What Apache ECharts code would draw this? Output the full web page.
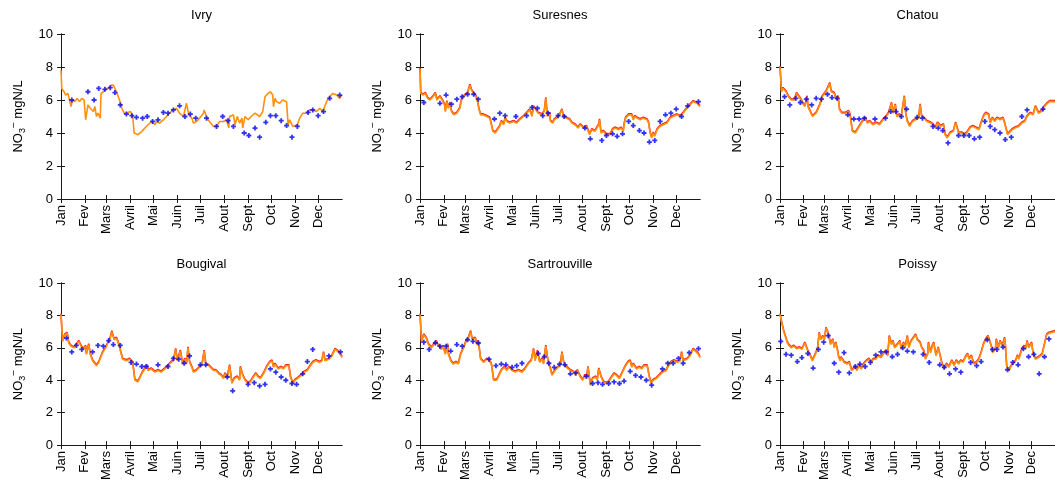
<!DOCTYPE html>
<html>
<head>
<meta charset="utf-8">
<script src="https://cdn.jsdelivr.net/npm/echarts@6/dist/echarts.min.js"></script>
<style>
  html, body { margin: 0; padding: 0; background: #fff; }
  #main { width: 1055px; height: 483px; }
</style>
</head>
<body>
<div id="main"></div>
<script>
var months = ['Jan', 'Fev', 'Mars', 'Avril', 'Mai', 'Juin', 'Juil', 'Aout', 'Sept', 'Oct', 'Nov', 'Dec'];
var monthStart = [0, 31, 59, 90, 120, 151, 181, 212, 243, 273, 304, 334];
var stations = ['Ivry', 'Suresnes', 'Chatou', 'Bougival', 'Sartrouville', 'Poissy'];

// modelled daily nitrate, [day, mgN/L]
var ivryModel = [[0,7.8],[1,6.7],[4,6.5],[6,6.3],[9,6.4],[13,5.6],[15,6.0],[18,5.9],[21,6.1],[24,5.9],[27,6.1],[30,6.0],[32,4.8],[35,5.7],[38,5.5],[42,5.3],[44,5.6],[46,5.0],[48,5.2],[51,4.9],[52,6.4],[55,6.5],[59,6.7],[62,6.7],[65,6.9],[68,6.9],[72,6.5],[76,6.0],[79,5.5],[82,5.2],[85,5.2],[90,5.3],[93,5.1],[95,4.0],[100,3.9],[105,4.1],[109,4.3],[113,4.5],[118,4.7],[120,4.8],[122,4.5],[124,4.7],[128,4.6],[133,4.8],[137,5.0],[141,5.2],[146,5.4],[150,5.5],[152,5.6],[154,5.2],[159,5.0],[163,5.8],[166,5.1],[170,4.9],[172,4.6],[176,4.7],[180,4.9],[185,5.2],[186,5.4],[189,5.0],[191,4.8],[193,4.7],[198,4.4],[202,4.4],[206,4.7],[211,4.7],[215,4.8],[218,4.3],[219,5.0],[224,5.1],[226,4.5],[229,5.0],[232,4.6],[235,4.9],[236,4.3],[239,5.0],[243,4.8],[247,5.0],[252,5.2],[258,5.0],[260,4.9],[262,5.3],[265,6.2],[269,6.4],[272,6.5],[275,6.3],[276,5.6],[278,6.1],[280,5.9],[284,5.8],[288,6.0],[293,5.9],[295,4.5],[297,4.8],[301,4.4],[307,4.5],[310,4.9],[314,5.2],[319,5.2],[323,5.4],[327,5.4],[332,5.3],[336,5.5],[340,5.3],[345,5.9],[349,6.2],[353,6.4],[358,6.3],[362,6.1],[365,6.3]];
var suresnesModel = [[0,7.9],[1,6.4],[4,6.3],[7,6.4],[10,6.1],[13,6.0],[17,6.2],[20,6.4],[22,6.0],[26,6.2],[30,5.9],[32,5.7],[33,5.3],[35,5.9],[37,5.5],[39,5.8],[41,5.3],[44,5.1],[48,5.2],[50,5.1],[52,5.5],[54,6.0],[59,6.3],[62,6.4],[65,6.9],[67,6.6],[70,6.4],[73,6.2],[75,5.9],[77,5.4],[79,5.1],[82,5.1],[87,5.0],[89,5.1],[91,4.9],[95,4.1],[98,4.0],[101,4.2],[104,4.4],[106,4.7],[109,4.5],[111,4.9],[113,4.7],[117,4.6],[122,4.7],[126,4.6],[130,4.8],[135,5.0],[139,5.2],[143,5.4],[146,5.0],[148,5.6],[150,5.7],[154,5.2],[159,5.1],[162,5.3],[164,6.1],[166,5.0],[169,5.2],[170,4.7],[173,4.6],[175,4.8],[178,4.9],[181,5.0],[185,5.4],[187,5.0],[191,4.9],[195,4.8],[198,4.6],[202,4.5],[206,4.3],[209,4.5],[213,4.3],[217,4.4],[218,4.5],[221,3.9],[224,4.2],[228,4.1],[233,4.5],[234,4.8],[236,4.0],[239,4.1],[243,3.9],[248,3.9],[251,4.2],[254,4.3],[259,4.2],[262,4.3],[265,4.1],[266,4.5],[268,4.9],[272,5.1],[276,5.1],[278,4.8],[280,5.0],[283,4.9],[287,4.8],[291,4.9],[296,4.8],[298,4.6],[300,4.0],[302,3.7],[304,4.0],[306,3.8],[309,4.2],[313,4.4],[317,4.5],[322,4.6],[326,4.9],[330,5.0],[335,5.1],[339,5.0],[343,5.2],[348,5.5],[352,5.7],[356,5.9],[361,5.8],[365,5.6]];
var chatouModel = [[0,8.0],[2,6.5],[4,6.7],[8,6.5],[11,6.2],[15,6.0],[19,6.0],[22,6.4],[25,6.2],[28,6.0],[30,5.8],[33,5.6],[36,6.2],[37,5.6],[39,5.4],[43,5.0],[48,5.2],[50,5.1],[53,5.7],[56,6.2],[61,6.5],[63,6.6],[66,7.0],[68,6.5],[72,6.4],[75,6.0],[77,6.2],[79,5.4],[82,5.2],[87,5.2],[91,5.3],[93,5.1],[96,4.1],[100,4.0],[104,4.3],[108,4.6],[110,4.7],[113,4.9],[116,4.6],[119,4.7],[123,4.5],[128,4.6],[132,4.5],[137,4.8],[141,5.0],[144,5.2],[148,5.8],[150,5.2],[153,5.7],[155,5.0],[158,5.1],[161,5.0],[165,6.2],[167,5.1],[169,4.7],[172,4.4],[176,4.7],[180,4.8],[184,4.9],[186,5.7],[188,5.0],[191,4.9],[195,4.7],[200,4.6],[203,4.5],[206,4.3],[209,4.6],[213,4.4],[217,4.5],[219,3.9],[222,3.7],[226,4.0],[230,4.1],[233,4.6],[237,4.0],[241,4.0],[245,3.9],[248,4.0],[252,4.3],[256,4.4],[260,4.3],[264,4.2],[267,4.6],[270,5.0],[273,5.2],[277,5.1],[279,4.6],[282,4.9],[285,4.7],[288,4.9],[292,4.8],[296,4.9],[298,4.6],[302,3.9],[304,4.0],[308,4.2],[312,4.3],[317,4.4],[321,4.6],[325,4.7],[328,5.0],[332,5.2],[336,5.1],[339,5.6],[343,5.2],[347,5.3],[351,5.6],[355,5.8],[358,5.9],[365,5.9]];
var bougivalModel = [[0,8.05],[2,6.4],[5,6.8],[8,6.9],[10,6.3],[13,6.1],[17,6.0],[20,6.2],[23,6.4],[26,6.1],[29,5.9],[32,6.1],[33,5.6],[36,6.2],[38,5.6],[41,5.2],[46,4.9],[49,5.1],[51,5.0],[54,5.7],[58,6.0],[61,6.3],[64,6.6],[66,7.0],[69,6.5],[72,6.6],[75,6.2],[77,6.3],[80,5.3],[85,5.2],[89,5.3],[93,5.1],[96,4.0],[100,3.9],[103,4.2],[106,4.5],[109,4.7],[111,4.9],[113,4.6],[117,4.7],[122,4.5],[126,4.6],[130,4.5],[135,4.7],[139,4.9],[143,5.1],[146,5.2],[149,5.9],[151,5.2],[155,5.8],[158,5.0],[161,5.3],[163,5.0],[165,6.0],[167,5.1],[170,4.8],[172,4.5],[176,4.6],[180,4.8],[183,4.9],[186,5.8],[188,5.0],[192,4.9],[194,4.8],[198,4.6],[201,4.6],[205,4.4],[208,4.3],[211,4.1],[213,4.4],[216,4.2],[219,4.9],[222,3.8],[225,4.1],[229,4.2],[232,4.0],[233,4.8],[236,4.3],[239,4.0],[243,3.8],[246,3.9],[250,4.2],[253,4.4],[256,4.2],[259,4.1],[263,4.4],[267,4.8],[271,5.1],[274,5.2],[276,4.8],[278,5.0],[282,4.7],[286,4.8],[289,4.7],[292,4.9],[296,4.9],[298,4.2],[301,3.8],[304,4.0],[307,4.1],[312,4.3],[316,4.5],[320,4.6],[324,4.9],[327,5.1],[331,5.2],[336,5.1],[339,5.2],[341,5.7],[343,5.2],[348,5.3],[352,5.5],[354,5.6],[356,5.9],[359,5.8],[363,5.6],[365,5.4]];
var sartrouvilleModel = [[0,8.05],[2,6.4],[5,6.8],[8,6.6],[11,6.2],[15,6.0],[18,6.2],[21,6.4],[24,6.1],[28,5.9],[30,6.1],[33,5.6],[36,6.2],[37,5.6],[40,5.2],[43,5.0],[47,5.1],[50,5.0],[53,5.6],[57,6.0],[60,6.4],[63,6.6],[66,7.0],[68,6.5],[72,6.6],[74,6.2],[76,6.4],[79,5.3],[83,5.1],[87,5.3],[90,5.2],[93,5.0],[96,4.0],[100,4.0],[103,4.3],[106,4.6],[110,4.8],[113,4.6],[116,4.8],[120,4.6],[124,4.5],[128,4.6],[133,4.5],[137,4.7],[141,5.0],[145,5.2],[148,5.9],[150,5.2],[153,5.8],[156,5.1],[159,5.3],[161,5.0],[164,6.1],[167,5.1],[170,4.7],[172,4.3],[176,4.6],[180,4.8],[183,4.9],[185,5.7],[188,4.9],[191,4.8],[196,4.6],[200,4.5],[203,4.3],[205,4.6],[209,4.2],[212,4.0],[215,4.3],[217,4.1],[219,4.8],[222,3.7],[225,4.1],[229,4.2],[231,4.0],[233,4.7],[236,4.2],[239,3.9],[243,3.8],[246,3.9],[250,4.2],[253,4.4],[256,4.3],[260,4.1],[263,4.4],[267,4.8],[271,5.1],[274,5.2],[276,4.8],[278,5.0],[282,4.7],[286,4.8],[289,4.7],[292,4.9],[296,4.9],[299,4.2],[301,3.8],[304,4.0],[308,4.1],[312,4.3],[316,4.5],[321,4.6],[324,4.9],[327,5.1],[331,5.2],[336,5.1],[339,5.2],[341,5.7],[343,5.2],[348,5.3],[352,5.5],[354,5.6],[356,5.9],[359,5.8],[363,5.6],[365,5.4]];
var poissyModel = [[0,8.05],[2,7.6],[5,7.0],[9,6.4],[11,6.2],[15,6.0],[18,6.1],[22,5.95],[26,6.0],[29,5.9],[31,6.0],[33,6.3],[36,5.9],[38,6.0],[40,5.5],[43,5.2],[45,5.3],[48,5.7],[50,6.0],[52,6.9],[54,6.5],[57,6.7],[59,6.5],[61,7.2],[63,7.0],[65,6.7],[67,6.2],[70,6.5],[72,6.0],[74,6.3],[76,5.9],[78,5.4],[80,5.2],[81,5.4],[85,5.1],[89,5.0],[92,5.1],[95,4.6],[97,4.5],[100,4.8],[102,4.6],[105,4.9],[108,4.7],[111,5.0],[115,5.2],[118,5.3],[121,5.1],[124,5.3],[127,5.3],[130,5.5],[134,5.4],[137,5.6],[140,5.8],[143,5.5],[145,6.7],[148,6.2],[150,6.4],[152,6.0],[156,6.2],[159,6.4],[161,5.9],[164,6.3],[166,6.0],[169,6.7],[171,6.0],[174,6.4],[177,6.6],[180,6.8],[182,6.5],[186,6.3],[188,6.0],[191,5.8],[193,5.3],[196,5.6],[197,6.3],[200,5.7],[202,6.1],[204,6.3],[207,5.5],[210,6.0],[212,5.6],[215,5.0],[218,4.7],[221,5.0],[224,4.8],[226,5.0],[228,5.2],[231,4.9],[234,5.2],[237,5.0],[240,5.2],[243,5.1],[246,5.4],[249,5.6],[251,5.3],[254,5.5],[257,5.0],[261,5.1],[264,5.3],[267,5.7],[270,6.2],[273,6.5],[276,6.7],[278,6.6],[281,6.0],[282,5.7],[286,5.9],[287,6.5],[290,6.0],[292,6.4],[295,6.1],[298,6.6],[299,6.2],[301,4.8],[304,4.6],[306,4.8],[309,5.0],[313,5.2],[315,5.5],[317,5.3],[321,5.9],[324,6.1],[326,5.9],[328,6.4],[330,6.0],[334,6.3],[336,5.6],[339,5.3],[343,5.4],[348,5.6],[351,6.2],[354,6.8],[357,6.9],[365,7.0]];

// measured samples, [day, mgN/L]
var ivryObs = [[14,6.0],[35,6.5],[43,6.0],[49,6.7],[57,6.65],[64,6.75],[70,6.45],[77,5.7],[85,5.15],[92,5.05],[98,4.95],[106,4.9],[112,5.0],[119,4.7],[126,4.8],[133,5.25],[139,5.2],[146,5.4],[154,5.65],[161,5.0],[168,5.15],[175,4.9],[189,4.9],[202,4.4],[210,5.0],[217,4.75],[224,4.4],[238,4.0],[244,3.85],[252,4.3],[258,3.75],[266,4.65],[272,5.05],[279,5.05],[286,4.75],[293,4.45],[300,3.75],[307,4.4],[321,5.25],[327,5.4],[334,5.05],[341,5.3],[349,6.1],[362,6.3]];
var suresnesObs = [[5,5.85],[26,5.8],[34,6.3],[41,5.75],[48,6.05],[55,6.2],[62,6.35],[70,6.35],[76,6.05],[97,4.85],[104,5.2],[111,5.05],[125,5.0],[139,5.05],[146,5.55],[153,5.5],[160,5.05],[167,5.2],[180,5.05],[188,5.0],[215,4.3],[222,3.65],[237,3.55],[243,3.85],[251,3.95],[257,3.8],[264,3.95],[272,4.7],[278,4.45],[286,4.15],[292,4.0],[299,3.45],[306,3.55],[313,4.7],[320,5.1],[327,5.2],[334,5.45],[341,5.0],[349,5.65],[363,5.9]];
var chatouObs = [[6,6.2],[13,5.7],[21,6.1],[27,5.85],[35,6.05],[42,5.7],[48,6.1],[55,6.05],[63,6.35],[69,6.15],[76,6.1],[90,5.1],[98,4.85],[105,4.85],[112,4.9],[126,4.85],[140,4.9],[147,5.3],[154,5.3],[161,5.0],[168,5.45],[182,4.95],[189,4.9],[203,4.4],[210,4.3],[216,4.15],[223,3.4],[237,3.85],[244,3.85],[251,3.85],[258,3.65],[265,3.75],[272,4.7],[279,4.4],[285,4.2],[292,4.0],[299,3.6],[307,3.75],[321,5.0],[328,5.4],[349,5.45]];
var bougivalObs = [[7,6.6],[14,5.75],[20,6.15],[27,5.9],[41,5.75],[48,6.15],[55,6.1],[62,6.45],[68,6.2],[77,6.15],[91,5.1],[98,5.0],[105,4.85],[111,4.85],[126,4.95],[139,4.85],[146,5.35],[153,5.3],[160,5.05],[167,5.5],[181,4.95],[188,4.95],[216,4.2],[223,3.35],[243,3.75],[251,3.85],[258,3.65],[265,3.75],[272,4.7],[279,4.5],[286,4.2],[292,4.0],[300,3.8],[306,3.75],[314,4.4],[320,5.15],[327,5.9],[348,5.5],[363,5.75]];
var sartrouvilleObs = [[5,6.35],[12,5.9],[20,6.3],[26,6.1],[34,6.1],[40,5.8],[48,6.2],[55,6.1],[62,6.5],[69,6.4],[76,6.3],[90,5.3],[99,4.9],[106,5.0],[112,4.95],[120,4.8],[126,4.9],[133,5.05],[154,5.65],[162,5.45],[168,5.05],[175,4.8],[182,5.0],[189,4.95],[196,4.4],[203,4.45],[217,4.25],[225,3.8],[232,3.85],[238,3.75],[246,3.8],[253,3.9],[260,3.8],[266,3.95],[274,4.55],[281,4.3],[288,4.2],[295,4.0],[302,3.7],[316,4.7],[323,5.05],[330,5.05],[337,5.35],[343,5.05],[351,5.7],[363,5.95]];
var poissyObs = [[1,6.4],[8,5.6],[15,5.55],[23,5.15],[29,5.4],[37,5.65],[44,4.75],[51,5.9],[58,6.35],[64,6.75],[72,5.05],[78,4.5],[85,5.7],[92,4.45],[100,4.85],[106,5.0],[113,4.85],[120,5.1],[127,5.55],[134,5.75],[141,5.75],[149,5.45],[156,5.6],[163,6.0],[169,5.8],[177,5.75],[190,5.6],[198,5.1],[212,4.95],[218,4.8],[225,4.4],[233,4.7],[240,4.5],[253,5.1],[261,4.9],[267,5.15],[275,6.5],[282,5.9],[288,5.9],[296,6.05],[302,4.65],[309,5.1],[316,4.95],[323,5.95],[330,5.45],[337,5.6],[344,4.4],[351,5.45],[357,6.55]];

var models = [ivryModel, suresnesModel, chatouModel, bougivalModel, sartrouvilleModel, poissyModel];
var observed = [ivryObs, suresnesObs, chatouObs, bougivalObs, sartrouvilleObs, poissyObs];

var myChart = echarts.init(document.getElementById('main'));

// panel boxes (px)
var lefts = [61, 420, 780];
var widths = [281, 280, 281];
var tops = [34, 283];
var heights = [165, 164];
var redEdge = [false, true, true, true, true, true];

var font = 'Liberation Sans, Arial, sans-serif';
var ink = '#1a1a1a';
var plus = 'path://M1.6,0H3.4V1.6H5V3.4H3.4V5H1.6V3.4H0V1.6H1.6Z';

var grid = [], xAxis = [], yAxis = [], series = [];

stations.forEach(function (name, i) {
    var col = i % 3, row = Math.floor(i / 3);
    grid.push({ left: lefts[col], top: tops[row], width: widths[col], height: heights[row] });

    var tick = { show: true, inside: true, length: 4, customValues: monthStart, lineStyle: { color: ink } };
    // bottom axis with month labels
    xAxis.push({
        type: 'value', gridIndex: i, min: 0, max: 365,
        axisLine: { lineStyle: { color: ink, width: 1 } },
        axisTick: tick,
        splitLine: { show: false },
        axisLabel: {
            customValues: monthStart, rotate: 90, margin: 6,
            color: '#000', fontFamily: font, fontSize: 13,
            formatter: function (v) { return months[monthStart.indexOf(v)]; }
        }
    });
    // top mirror, carries the station title
    xAxis.push({
        type: 'value', gridIndex: i, min: 0, max: 365, position: 'top',
        name: name, nameLocation: 'middle', nameGap: 12,
        nameTextStyle: { color: '#000', fontFamily: font, fontSize: 13 },
        axisLine: { lineStyle: { color: ink, width: 1 } },
        axisTick: tick,
        axisLabel: { show: false },
        splitLine: { show: false }
    });
    yAxis.push({
        type: 'value', gridIndex: i, min: 0, max: 10, interval: 2,
        name: '{a|NO}{b|3}{c|−}{a| mgN/L}', nameLocation: 'middle', nameGap: 34,
        nameTextStyle: {
            color: '#000', fontFamily: font, fontSize: 13,
            rich: {
                a: { fontFamily: font, fontSize: 13, lineHeight: 18, color: '#000' },
                b: { fontFamily: font, fontSize: 9, lineHeight: 18, verticalAlign: 'bottom', color: '#000' },
                c: { fontFamily: font, fontSize: 10, lineHeight: 18, verticalAlign: 'top', color: '#000' }
            }
        },
        axisLine: { show: true, lineStyle: { color: ink, width: 1 } },
        axisTick: { show: true, inside: true, length: 4, lineStyle: { color: ink } },
        splitLine: { show: false },
        axisLabel: { margin: 8, color: '#000', fontFamily: font, fontSize: 13 }
    });
    yAxis.push({
        type: 'value', gridIndex: i, min: 0, max: 10, interval: 2, position: 'right',
        axisLine: { show: true, lineStyle: { color: ink, width: 1 } },
        axisTick: { show: true, inside: true, length: 4, lineStyle: { color: ink } },
        splitLine: { show: false },
        axisLabel: { show: false }
    });

    var ls = { color: '#ff900c', width: 1.6 };
    if (redEdge[i]) {
        ls.shadowColor = '#ff2020';
        ls.shadowOffsetY = -1;
        ls.shadowBlur = 0;
    }
    series.push({
        type: 'line', name: name, xAxisIndex: 2 * i, yAxisIndex: 2 * i,
        data: models[i], showSymbol: false, symbol: 'none',
        lineStyle: ls, animation: false, silent: true, z: 2
    });
    series.push({
        type: 'scatter', name: name + ' obs', xAxisIndex: 2 * i, yAxisIndex: 2 * i,
        data: observed[i], symbol: plus, symbolSize: 5,
        itemStyle: { color: '#0000f0' }, animation: false, silent: true, z: 3
    });
});

var option = {
    backgroundColor: '#fff',
    animation: false,
    grid: grid,
    xAxis: xAxis,
    yAxis: yAxis,
    series: series
};

myChart.setOption(option);
</script>
</body>
</html>
